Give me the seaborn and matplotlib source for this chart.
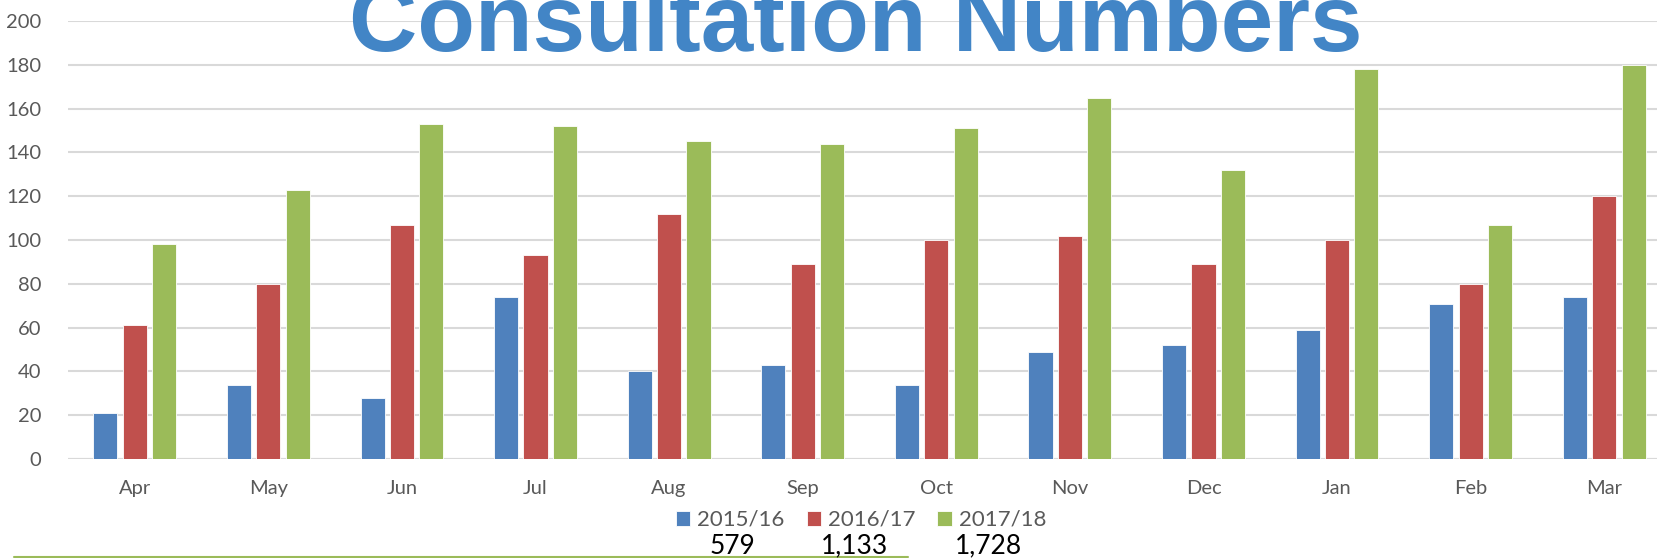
"""
Consultation numbers per month, three financial years side by side.
"""

import numpy as np
import pandas as pd
import matplotlib.pyplot as plt
import seaborn as sns

# Chart data
months = ['Apr', 'May', 'Jun', 'Jul', 'Aug', 'Sep',
          'Oct', 'Nov', 'Dec', 'Jan', 'Feb', 'Mar']
seasons = ['2015/16', '2016/17', '2017/18']
fy_2015 = [21, 34, 28, 74, 40, 43, 34, 49, 52, 59, 71, 74]
fy_2016 = [61, 80, 107, 93, 112, 89, 100, 102, 89, 100, 80, 120]
fy_2017 = [98, 123, 153, 152, 145, 144, 151, 165, 132, 178, 107, 180]
y_ticks = [0, 20, 40, 60, 80, 100, 120, 140, 160, 180, 200]

colors = ['#4F81BD', '#C0504D', '#9BBB59']


def build_frame():
    """Long format table for seaborn"""
    rows = []
    for season, vals in zip(seasons, [fy_2015, fy_2016, fy_2017]):
        for m, v in zip(months, vals):
            rows.append({'month': m, 'season': season, 'count': v})
    return pd.DataFrame(rows)


def main():
    df = build_frame()
    W, H = 1657, 558

    sns.set_style('white')
    plt.rcParams['font.family'] = ['Lato', 'DejaVu Sans']

    fig = plt.figure(figsize=(W / 100, H / 100), dpi=100)
    ax = fig.add_axes([68 / W, 99 / H, 1603 / W, 438 / H])

    sns.barplot(data=df, x='month', y='count', hue='season', order=months,
                hue_order=seasons, palette=colors, width=0.66, gap=0.18,
                saturation=1, edgecolor='white', linewidth=0.6, ax=ax)

    ax.set_ylim(0, 200)
    ax.set_xlim(-0.5, len(months) - 0.5)
    ax.set_yticks(y_ticks)
    ax.yaxis.grid(True, color='#D9D9D9', linewidth=1.5)
    ax.set_axisbelow(True)
    for s in ax.spines.values():
        s.set_visible(False)
    ax.set_xlabel('')
    ax.set_ylabel('')
    ax.tick_params(axis='y', length=0, pad=19, labelsize=14.5, labelcolor='#595959')
    ax.tick_params(axis='x', length=0, pad=15, labelsize=14.5, labelcolor='#595959')
    ax.axhline(0, color='#D9D9D9', linewidth=1.5, zorder=0.5)

    # legend below the axis labels
    handles, labels = ax.get_legend_handles_labels()
    ax.get_legend().remove()
    fig.legend(handles, labels, loc='center', bbox_to_anchor=(861 / W, 1 - 520 / H),
               ncol=3, frameon=False, fontsize=16, handlelength=0.65,
               handleheight=0.65, handletextpad=0.3, columnspacing=1.0,
               labelcolor='#595959')

    # yearly totals under the legend
    totals = [sum(fy_2015), sum(fy_2016), sum(fy_2017)]
    for xpx, tot in zip([732, 855, 988], totals):
        fig.text(xpx / W, 1 - 546 / H, f'{tot:,}', ha='center', va='center',
                 fontsize=19, color='black')

    fig.add_artist(plt.Line2D([14 / W, 908 / W], [1 - 557 / H, 1 - 557 / H],
                              color='#9BBB59', linewidth=1.5))

    # big title, partly above the picture
    fig.text(856 / W, 1 - 51 / H, 'Consultation Numbers', ha='center',
             va='baseline', fontsize=68, fontweight='bold', color='#4285C6',
             family=['Liberation Sans'])

    fig.savefig('out.png', dpi=100)


if __name__ == '__main__':
    main()
